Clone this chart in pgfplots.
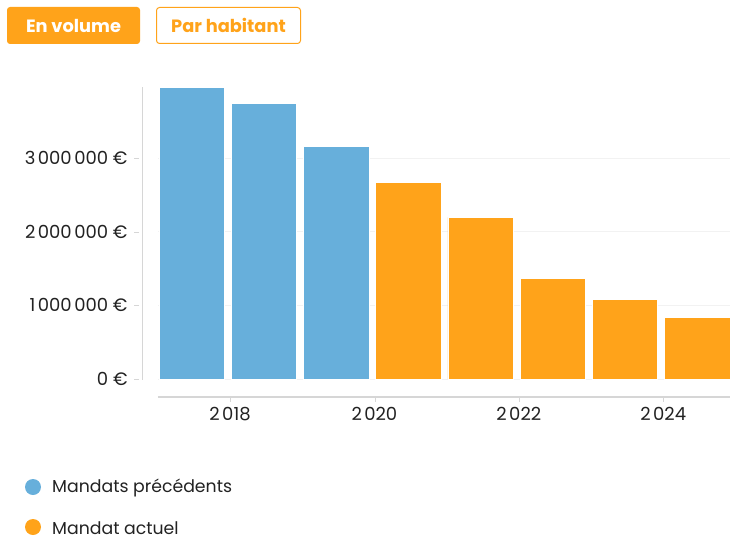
\documentclass[border=0pt]{standalone}
\usepackage{fontspec}
\setmainfont{Poppins}
\usepackage{pgfplots}
\pgfplotsset{compat=1.18}

\definecolor{prevblue}{HTML}{67AFDB}
\definecolor{curorange}{HTML}{FFA31A}
\definecolor{axisgray}{HTML}{D6D6D6}
\definecolor{gridgray}{HTML}{F2F2F2}
\definecolor{txt}{HTML}{222222}

\begin{document}
\begin{tikzpicture}
\path[use as bounding box] (0,0) rectangle (730pt,-540pt);

% toggle buttons
\node[fill=curorange, rounded corners=3pt, minimum width=133pt, minimum height=37pt,
      inner sep=0pt, text=white, font=\bfseries\fontsize{17.8}{20}\selectfont]
      at (73.5pt,-25.5pt) {En volume};
\node[draw=curorange, line width=1pt, fill=white, rounded corners=3pt,
      minimum width=144pt, minimum height=36pt, inner sep=0pt, text=curorange,
      font=\bfseries\fontsize{17.8}{20}\selectfont]
      at (228.5pt,-25.5pt) {Par habitant};

\begin{axis}[
  at={(157.8pt,-379pt)}, anchor=south west,
  scale only axis, width=572.2pt, height=291.7pt,
  xmin=2017, xmax=2024.925, ymin=0, ymax=3965000,
  axis line style={draw=none},
  major tick length=0pt,
  xtick={2018,2020,2022,2024},
  xticklabels={2\hspace{2.5pt}018,2\hspace{2.5pt}020,2\hspace{2.5pt}022,2\hspace{2.5pt}024},
  ytick={0,1000000,2000000,3000000},
  yticklabels={0 €,1\hspace{2.5pt}000\hspace{2.5pt}000 €,2\hspace{2.5pt}000\hspace{2.5pt}000 €,3\hspace{2.5pt}000\hspace{2.5pt}000 €},
  scaled y ticks=false,
  ymajorgrids, grid style={gridgray, line width=1pt},
  tick label style={font=\fontsize{18}{20}\selectfont, text=txt},
  xticklabel style={anchor=north, inner sep=0pt, yshift=-28pt},
  yticklabel style={anchor=east, inner sep=0pt, xshift=-30pt},
  clip=true,
]
% previous terms
\addplot[ybar, bar width=0.905, bar shift=0pt, fill=prevblue, draw=white, line width=0.6pt]
  coordinates {(2017.47,3965000) (2018.47,3747000) (2019.47,3163000)};
% current term
\addplot[ybar, bar width=0.905, bar shift=0pt, fill=curorange, draw=white, line width=0.6pt]
  coordinates {(2020.47,2668000) (2021.47,2198000) (2022.47,1369000) (2023.47,1078000) (2024.47,833000)};
\end{axis}

% offset axis lines and tick marks
\draw[axisgray, line width=1.3pt] (142.8pt,-379.5pt) -- (142.8pt,-87.3pt);
\draw[axisgray, line width=1.2pt] (157.8pt,-397pt) -- (730pt,-397pt);
\foreach \x in {230,375,519,663}
  \draw[axisgray, line width=0.8pt] (\x pt,-397pt) -- ++(0,-5pt);
\foreach \y in {379,305.4,231.9,158.3}
  \draw[axisgray, line width=0.8pt] (139pt,-\y pt) -- ++(-5pt,0);

% legend
\fill[prevblue] (33pt,-487pt) circle (8pt);
\node[anchor=west, inner sep=0pt, text=txt, font=\fontsize{17.3}{20}\selectfont] at (52pt,-488pt) {Mandats précédents};
\fill[curorange] (33pt,-527pt) circle (8pt);
\node[anchor=west, inner sep=0pt, text=txt, font=\fontsize{17.3}{20}\selectfont] at (52pt,-528pt) {Mandat actuel};
\end{tikzpicture}
\end{document}
